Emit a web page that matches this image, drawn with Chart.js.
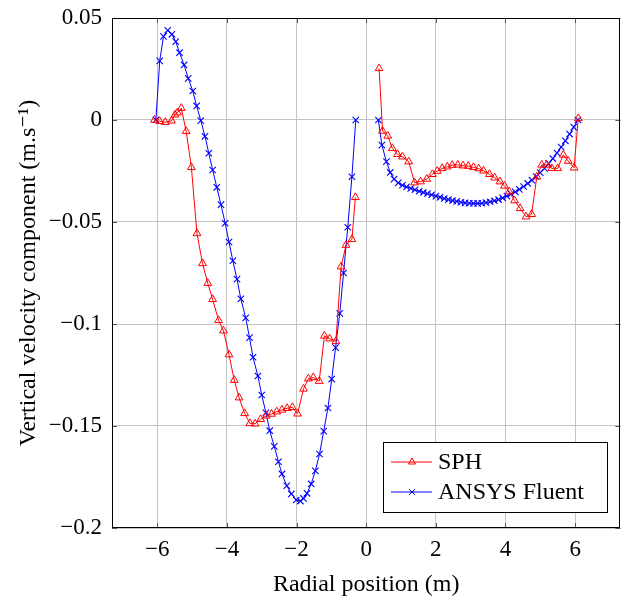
<!DOCTYPE html>
<html>
<head>
<meta charset="utf-8">
<script src="https://cdn.jsdelivr.net/npm/chart.js@4/dist/chart.umd.min.js"></script>
<style>
  html, body { margin: 0; padding: 0; background: #fff; }
  #wrap { width: 626px; height: 600px; }
</style>
</head>
<body>
<div id="wrap"><canvas id="velChart" width="626" height="600"></canvas></div>
<script>
// ===== data =====
const xTicks = [-6, -4, -2, 0, 2, 4, 6];
const yTicks = [-0.2, -0.15, -0.1, -0.05, 0, 0.05];

// SPH, inner part (r < 0)
const sphLeftX = [-6.08, -5.93, -5.77, -5.59, -5.49, -5.42, -5.31, -5.17, -5.02, -4.86, -4.70, -4.55, -4.41, -4.24,
  -4.10, -3.94, -3.79, -3.65, -3.49, -3.34, -3.19, -3.03, -2.87, -2.72, -2.57, -2.42, -2.27, -2.12, -1.97, -1.80,
  -1.66, -1.52, -1.35, -1.20, -1.05, -0.87, -0.72, -0.58, -0.41, -0.31];
const sphLeftY = [0, -0.0006, -0.0011, -0.0004, 0.0026, 0.0036, 0.0058, -0.0055, -0.0232, -0.0556, -0.0703, -0.0800,
  -0.0879, -0.0982, -0.1033, -0.1150, -0.1275, -0.1361, -0.1438, -0.1487, -0.1489, -0.1467, -0.1450, -0.1441, -0.1430,
  -0.1421, -0.1413, -0.1408, -0.1440, -0.1318, -0.1268, -0.1262, -0.1280, -0.1058, -0.1072, -0.1085, -0.0719, -0.0613,
  -0.0585, -0.0379];
// SPH, outer part (r > 0)
const sphRightX = [0.37, 0.47, 0.62, 0.75, 0.90, 1.04, 1.22, 1.39, 1.56, 1.74, 1.90, 2.04, 2.18, 2.33, 2.47, 2.63, 2.78,
  2.93, 3.08, 3.23, 3.37, 3.54, 3.69, 3.84, 3.97, 4.11, 4.26, 4.42, 4.59, 4.75, 4.90, 5.04, 5.18, 5.33, 5.50, 5.66, 5.80,
  5.97, 6.09];
const sphRightY = [0.0253, -0.0054, -0.0078, -0.0139, -0.0168, -0.0180, -0.0204, -0.0307, -0.0302, -0.0289, -0.0266,
  -0.0250, -0.0237, -0.0229, -0.0221, -0.0220, -0.0224, -0.0226, -0.0232, -0.0238, -0.0249, -0.0266, -0.0283, -0.0302,
  -0.0323, -0.0351, -0.0395, -0.0433, -0.0474, -0.0462, -0.0278, -0.0220, -0.0220, -0.0237, -0.0237, -0.0171, -0.0201,
  -0.0234, 0.0008];

// ANSYS Fluent, inner part
const cfdLeftX = [-6.04, -5.93, -5.82, -5.70, -5.58, -5.47, -5.36, -5.23, -5.11, -4.98, -4.87, -4.75, -4.63, -4.52,
  -4.41, -4.29, -4.17, -4.05, -3.94, -3.83, -3.71, -3.60, -3.46, -3.35, -3.25, -3.11, -3.00, -2.88, -2.77, -2.64,
  -2.52, -2.42, -2.28, -2.15, -2.01, -1.89, -1.80, -1.70, -1.58, -1.46, -1.34, -1.22, -1.10, -0.99, -0.88, -0.76,
  -0.65, -0.53, -0.41, -0.30];
const cfdLeftY = [0, 0.0290, 0.0410, 0.0440, 0.0420, 0.0384, 0.0330, 0.0270, 0.0204, 0.0142, 0.0069, -0.0003, -0.0080,
  -0.0163, -0.0245, -0.0330, -0.0415, -0.0506, -0.0598, -0.0690, -0.0780, -0.0877, -0.0970, -0.1067, -0.1163, -0.1255,
  -0.1348, -0.1435, -0.1523, -0.1600, -0.1675, -0.1735, -0.1793, -0.1833, -0.1863, -0.1868, -0.1855, -0.1830, -0.1784,
  -0.1720, -0.1637, -0.1525, -0.1412, -0.1270, -0.1116, -0.0948, -0.0750, -0.0526, -0.0278, 0];
// ANSYS Fluent, outer part
const cfdRightX = [0.35, 0.45, 0.58, 0.69, 0.80, 0.92, 1.04, 1.16, 1.28, 1.40, 1.52, 1.64, 1.76, 1.88, 2.00, 2.12, 2.24,
  2.36, 2.48, 2.60, 2.72, 2.84, 2.96, 3.08, 3.20, 3.32, 3.44, 3.56, 3.68, 3.80, 3.92, 4.04, 4.16, 4.28, 4.40, 4.52, 4.64,
  4.76, 4.88, 5.00, 5.12, 5.24, 5.36, 5.48, 5.60, 5.72, 5.84, 5.96, 6.08];
const cfdRightY = [0, -0.0123, -0.0204, -0.0257, -0.0290, -0.0308, -0.0320, -0.0328, -0.0335, -0.0342, -0.0349, -0.0355,
  -0.0361, -0.0367, -0.0373, -0.0379, -0.0385, -0.0390, -0.0395, -0.0399, -0.0403, -0.0406, -0.0408, -0.0409, -0.0409,
  -0.0408, -0.0405, -0.0401, -0.0396, -0.0390, -0.0382, -0.0373, -0.0363, -0.0352, -0.0340, -0.0326, -0.0311, -0.0295,
  -0.0277, -0.0258, -0.0237, -0.0214, -0.0189, -0.0162, -0.0133, -0.0102, -0.0069, -0.0035, 0];

const FONT = '"Liberation Serif", "DejaVu Serif", serif';

// two segments joined by a null point so the line breaks at r = 0
function pts(xl, yl, xr, yr) {
  const out = xl.map((x, i) => ({ x, y: yl[i] }));
  out.push({ x: 0, y: null });
  return out.concat(xr.map((x, i) => ({ x, y: yr[i] })));
}

const minus = v => (v < 0 ? '\u2212' : '') + Math.abs(v);

// pgfplots-like box: frame, inner tick marks, legend in the lower right
const boxPlugin = {
  id: 'box',
  afterDatasetsDraw(chart) {
    const { ctx, chartArea: a, scales } = chart;
    ctx.save();
    ctx.strokeStyle = '#555';
    ctx.lineWidth = 1;
    ctx.beginPath();
    xTicks.forEach(v => {
      const px = Math.round(scales.x.getPixelForValue(v)) + 0.5;
      ctx.moveTo(px, a.bottom); ctx.lineTo(px, a.bottom - 5);
      ctx.moveTo(px, a.top); ctx.lineTo(px, a.top + 5);
    });
    yTicks.forEach(v => {
      const py = Math.round(scales.y.getPixelForValue(v)) + 0.5;
      ctx.moveTo(a.left, py); ctx.lineTo(a.left + 5, py);
      ctx.moveTo(a.right, py); ctx.lineTo(a.right - 5, py);
    });
    ctx.stroke();
    ctx.strokeStyle = '#000';
    ctx.strokeRect(Math.round(a.left) + 0.5, Math.round(a.top) + 0.5,
      Math.round(a.right - a.left) - 1, Math.round(a.bottom - a.top) - 1);

    // legend
    const bx = 383, by = 442, bw = 224, bh = 70;
    ctx.fillStyle = '#fff';
    ctx.fillRect(bx, by, bw, bh);
    ctx.strokeStyle = '#000';
    ctx.strokeRect(bx + 0.5, by + 0.5, bw, bh);
    ctx.font = '24px ' + FONT;
    ctx.textBaseline = 'middle';
    chart.data.datasets.forEach((ds, i) => {
      const cy = by + 20 + i * 30;
      ctx.strokeStyle = ds.borderColor;
      ctx.lineWidth = 1;
      ctx.beginPath();
      ctx.moveTo(391, cy); ctx.lineTo(432, cy);
      ctx.stroke();
      ctx.beginPath();
      const cx = 412, r = 4;
      if (ds.pointStyle === 'triangle') {
        ctx.moveTo(cx, cy - r); ctx.lineTo(cx + r * 0.87, cy + r * 0.5); ctx.lineTo(cx - r * 0.87, cy + r * 0.5);
        ctx.closePath();
      } else {
        const d = r * 0.71;
        ctx.moveTo(cx - d, cy - d); ctx.lineTo(cx + d, cy + d);
        ctx.moveTo(cx + d, cy - d); ctx.lineTo(cx - d, cy + d);
      }
      ctx.stroke();
      ctx.fillStyle = '#000';
      ctx.fillText(ds.label, 438, cy + 1);
    });
    ctx.restore();
  }
};

new Chart(document.getElementById('velChart'), {
  type: 'line',
  data: {
    datasets: [{
      label: 'SPH',
      data: pts(sphLeftX, sphLeftY, sphRightX, sphRightY),
      borderColor: '#ff0000',
      backgroundColor: 'rgba(0,0,0,0)',
      pointStyle: 'triangle',
      pointRadius: 4.5,
      pointBorderWidth: 1,
      borderWidth: 1,
      tension: 0
    }, {
      label: 'ANSYS Fluent',
      data: pts(cfdLeftX, cfdLeftY, cfdRightX, cfdRightY),
      borderColor: '#0000ff',
      backgroundColor: 'rgba(0,0,0,0)',
      pointStyle: 'crossRot',
      pointRadius: 4.5,
      pointBorderWidth: 1.1,
      borderWidth: 1,
      tension: 0
    }]
  },
  options: {
    responsive: false,
    animation: false,
    spanGaps: false,
    layout: { padding: { top: 18, right: 4, left: 0, bottom: 0 } },
    plugins: { legend: { display: false }, tooltip: { enabled: false } },
    scales: {
      x: {
        type: 'linear',
        min: -7.3,
        max: 7.3,
        afterBuildTicks: s => { s.ticks = xTicks.map(v => ({ value: v })); },
        afterFit: s => { s.height = 72; s.paddingLeft = 0; s.paddingRight = 0; },
        grid: { color: '#c4c4c4', drawTicks: false },
        border: { display: false },
        ticks: { color: '#000', padding: 8, maxRotation: 0, font: { family: FONT, size: 23 }, callback: minus },
        title: {
          display: true,
          text: 'Radial position (m)',
          color: '#000',
          font: { family: FONT, size: 24 },
          padding: { top: 0, bottom: 1 }
        }
      },
      y: {
        min: -0.2,
        max: 0.05,
        afterBuildTicks: s => { s.ticks = yTicks.map(v => ({ value: v })); },
        afterFit: s => { s.width = 112; s.paddingTop = 0; s.paddingBottom = 0; },
        grid: { color: '#c4c4c4', drawTicks: false },
        border: { display: false },
        ticks: { color: '#000', padding: 10, font: { family: FONT, size: 23 }, callback: minus },
        title: {
          display: true,
          text: 'Vertical velocity component (m.s\u207B\u00B9)',
          color: '#000',
          font: { family: FONT, size: 24 },
          padding: { top: 14, bottom: 0 }
        }
      }
    }
  },
  plugins: [boxPlugin]
});
</script>
</body>
</html>
